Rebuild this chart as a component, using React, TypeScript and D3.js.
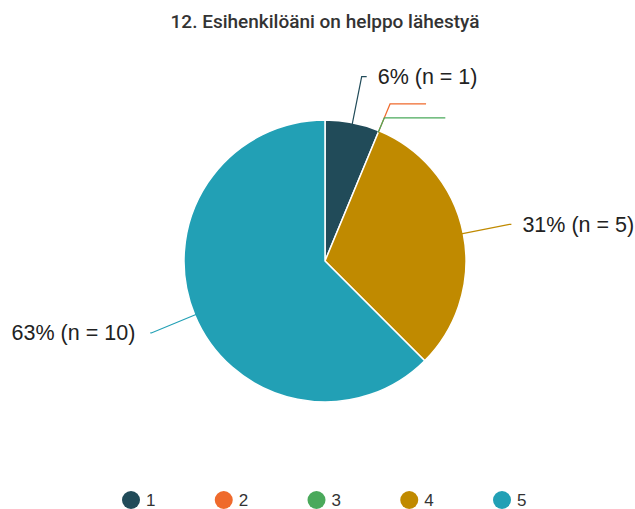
import React from "react";
import * as d3 from "d3";

const TITLE = "12. Esihenkilöäni on helppo lähestyä";
const categories = ["1", "2", "3", "4", "5"];
const counts = [1, 0, 0, 5, 10];
const colors = ["#214b59", "#ef6a2c", "#4aa95b", "#c08a00", "#22a0b5"];

// leader line layout per slice: elbow radius and horizontal run length
const elbowRadius = [188, 170, 155, 188, 188];
const runLength = [5, 36, 61, 2, 1];

const W = 635;
const H = 509;
const cx = 325;
const cy = 261;
const R = 141;

export default function App() {
  const total = d3.sum(counts);
  const pie = d3
    .pie<number>()
    .sort(null)
    .value((d) => d)(counts);
  const arc = d3.arc<d3.PieArcDatum<number>>().innerRadius(0).outerRadius(R);

  const legendX = d3.scalePoint<string>().domain(categories).range([131, 502]);

  return (
    <div style={{ position: "absolute", left: 0, top: 0 }}>
      <svg width={W} height={H} style={{ display: "block", background: "#fff" }}>
        <text
          x={325}
          y={28}
          textAnchor="middle"
          fontFamily="Roboto, sans-serif"
          fontWeight={500}
          fontSize={19}
          fill="#333"
        >
          {TITLE}
        </text>
        <g transform={`translate(${cx},${cy})`}>
          {pie.map((p, i) =>
            p.value > 0 ? (
              <path key={i} d={arc(p) || ""} fill={colors[i]} stroke="#fff" strokeWidth={1.5} />
            ) : null
          )}
          {pie.map((p, i) => {
            const a = (p.startAngle + p.endAngle) / 2;
            const sx = Math.sin(a) * (R - 2);
            const sy = -Math.cos(a) * (R - 2);
            const er = elbowRadius[i];
            const ex = Math.sin(a) * er;
            const ey = -Math.cos(a) * er;
            const right = Math.sin(a) >= 0;
            const hx = ex + (right ? runLength[i] : -runLength[i]);
            const pct = Math.round((p.value / total) * 100);
            return (
              <g key={"l" + i}>
                <polyline
                  points={`${sx},${sy} ${ex},${ey} ${hx},${ey}`}
                  fill="none"
                  stroke={colors[i]}
                  strokeWidth={1.2}
                />
                {p.value > 0 ? (
                  <text
                    x={hx + (right ? 11 : -15)}
                    y={ey + 7.5}
                    textAnchor={right ? "start" : "end"}
                    fontFamily="'Liberation Sans', Arial, sans-serif"
                    fontSize={21.5}
                    fill="#222"
                  >
                    {`${pct}% (n = ${p.value})`}
                  </text>
                ) : null}
              </g>
            );
          })}
        </g>
        {categories.map((c, i) => (
          <g key={c} transform={`translate(${legendX(c)},500)`}>
            <circle r={9} fill={colors[i]} />
            <text
              x={15}
              y={6}
              fontFamily="'Liberation Sans', Arial, sans-serif"
              fontSize={17}
              fill="#333"
            >
              {c}
            </text>
          </g>
        ))}
      </svg>
    </div>
  );
}
